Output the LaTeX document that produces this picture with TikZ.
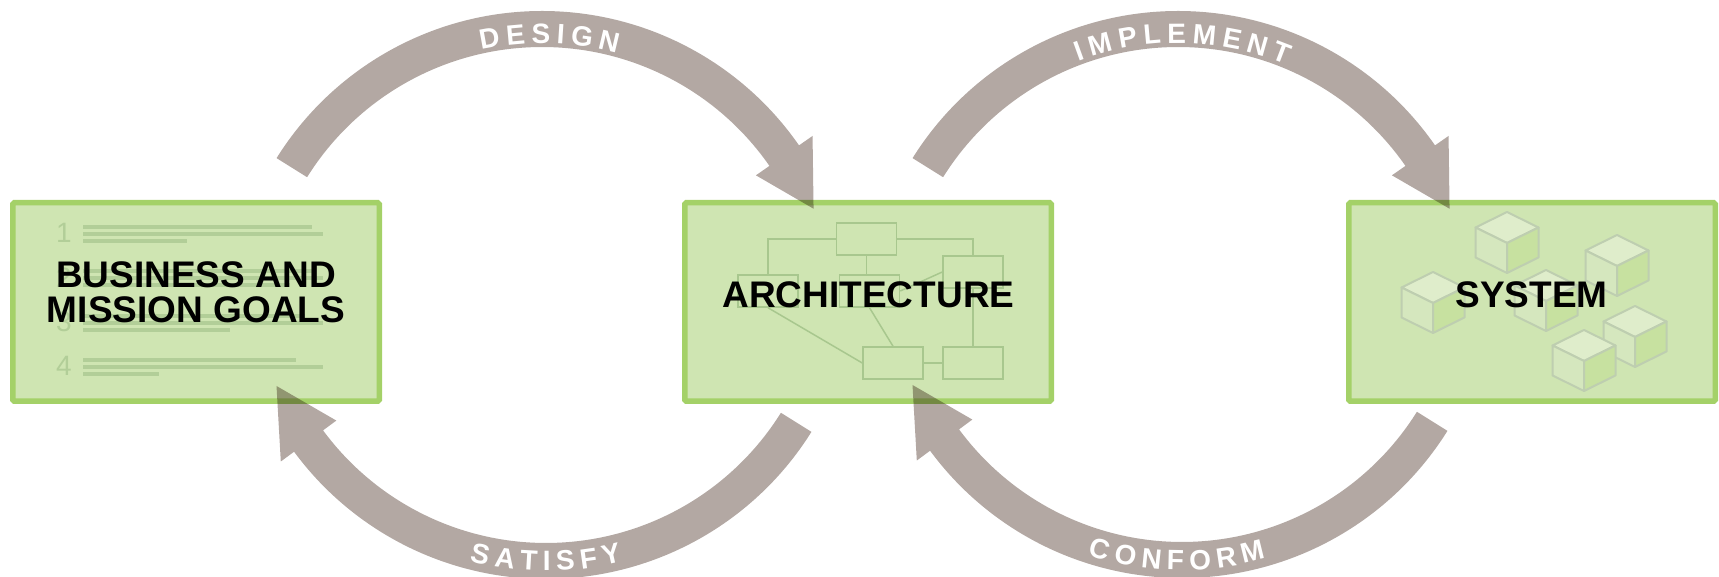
\documentclass[tikz,border=0pt]{standalone}
\usepackage{fontspec}
\setmainfont{Liberation Sans}
\usetikzlibrary{decorations.text}

\definecolor{boxfill}{RGB}{207,229,178}
\definecolor{boxline}{RGB}{164,209,104}
\definecolor{flowgray}{RGB}{179,168,163}
\definecolor{docline}{RGB}{178,206,152}
\definecolor{archline}{RGB}{168,199,142}
\definecolor{cubetop}{RGB}{223,237,203}
\definecolor{cubeleft}{RGB}{213,231,190}
\definecolor{cuberight}{RGB}{199,225,160}
\definecolor{cubeedge}{RGB}{190,206,176}

\newcommand{\titlefont}{\fontsize{37}{35}\selectfont\bfseries}
\newcommand{\flowfont}{\fontsize{28}{28}\selectfont\bfseries\fontdimen2\font=6pt}
% center, tail angle, head base angle, tip angle
\newcommand{\flowarrow}[4]{%
  \fill[flowgray] ([shift={(#2:313)}]#1) arc[start angle=#2,end angle=#3,radius=313]
    -- ([shift={(#3:329.5)}]#1) -- ([shift={(#4:295)}]#1)
    -- ([shift={(#3:260.5)}]#1) -- ([shift={(#3:277)}]#1)
    arc[start angle=#3,end angle=#2,radius=277] -- cycle;}

\begin{document}
\begin{tikzpicture}[x=1pt,y=1pt,
  box/.style={draw=boxline,fill=boxfill,line width=5.5pt,rounded corners=1.5pt,
    minimum width=366.5pt,minimum height=198.5pt,inner sep=0pt},
  title/.style={font=\titlefont,align=center,inner sep=0pt},
  docnum/.style={font=\fontsize{28}{28}\selectfont,text=docline,inner sep=0pt,anchor=base},
  docbar/.style={docline,line width=4pt},
  minibox/.style={draw=archline,line width=1.5pt,minimum width=60pt,minimum height=32pt,inner sep=0pt},
  archlink/.style={archline,line width=1.5pt},
  cubeface/.style={draw=cubeedge,line width=2pt,line join=round},
  flowtext/.style={decorate,decoration={text along path,text align=center,text color=white,text={|\flowfont|#1}}}]
\useasboundingbox (0,0) rectangle (1719,577);

% boxes
\node[box] (goals) at (196,275) {};
\node[box] (arch) at (868,275) {};
\node[box] (system) at (1532,275) {};

% goals list
\foreach \n/\a/\b/\c in {1/312/323/187,2/316/323/290,3/305/323/230,4/296/323/159}{
  \pgfmathsetmacro\yy{350-44.3*(\n-1)}
  \node[docnum] (num\n) at (64,\yy-16) {\n};
  \draw[docbar] (83,\yy) -- (\a,\yy);
  \draw[docbar] (83,\yy-7) -- (\b,\yy-7);
  \draw[docbar] (83,\yy-14) -- (\c,\yy-14);
}

% architecture sketch
\node[minibox] (a1) at (866.5,338) {};
\node[minibox] (a2) at (768,286) {};
\node[minibox] (a3) at (869.5,286) {};
\node[minibox] (a4) at (973,305) {};
\node[minibox] (a5) at (893,214) {};
\node[minibox] (a6) at (973,214) {};
\draw[archlink] (a1.west) -| (a2.north);
\draw[archlink] (a1.south) -- (a1.south |- a3.north);
\draw[archlink] (a1.east) -| (a4.north);
\draw[archlink] (a3.east) -- (a4.west);
\draw[archlink] (a2.south) -- (a5.west);
\draw[archlink] (a3.south) -- (a5.north);
\draw[archlink] (a5) -- (a6);
\draw[archlink] (a4) -- (a6);

% system cubes
\foreach \cx/\cy in {1507/334,1617/311,1546/276,1433/274,1635/240,1584/216}{
  \filldraw[cubeface,fill=cubetop] (\cx,\cy) -- ++(-31.5,15.5) -- ++(31.5,15.5) -- ++(31.5,-15.5) -- cycle;
  \filldraw[cubeface,fill=cubeleft] (\cx,\cy) -- ++(-31.5,15.5) -- ++(0,-30) -- ++(31.5,-15.5) -- cycle;
  \filldraw[cubeface,fill=cuberight] (\cx,\cy) -- ++(31.5,15.5) -- ++(0,-30) -- ++(-31.5,-15.5) -- cycle;
}

% titles
\node[title] (goalsT) at (196,284.5) {BUSINESS AND\\MISSION GOALS};
\node[title,anchor=base] (archT) at (868.5,269) {ARCHITECTURE};
\node[title,anchor=base] (systemT) at (1531.5,269) {SYSTEM};

% flows
\coordinate (designC) at (542,253);
\coordinate (implementC) at (1178,253);
\coordinate (satisfyC) at (546,311);
\coordinate (conformC) at (1182,312);
\begin{scope}[blend mode=multiply]
\flowarrow{designC}{148}{34.8}{23}
\flowarrow{implementC}{148}{34.8}{23}
\flowarrow{satisfyC}{-32}{-143.6}{-156}
\flowarrow{conformC}{-32}{-143.6}{-156}
\end{scope}
\path[flowtext={D E S I G N}] ([shift={(128.5:281)}]designC) arc[start angle=128.5,end angle=48.5,radius=281];
\path[flowtext={I M P L E M E N T}] ([shift={(129:281)}]implementC) arc[start angle=129,end angle=49,radius=281];
\path[flowtext={S A T I S F Y}] ([shift={(230:305)}]satisfyC) arc[start angle=230,end angle=310,radius=305];
\path[flowtext={C O N F O R M}] ([shift={(229:305)}]conformC) arc[start angle=229,end angle=309,radius=305];
\end{tikzpicture}
\end{document}
